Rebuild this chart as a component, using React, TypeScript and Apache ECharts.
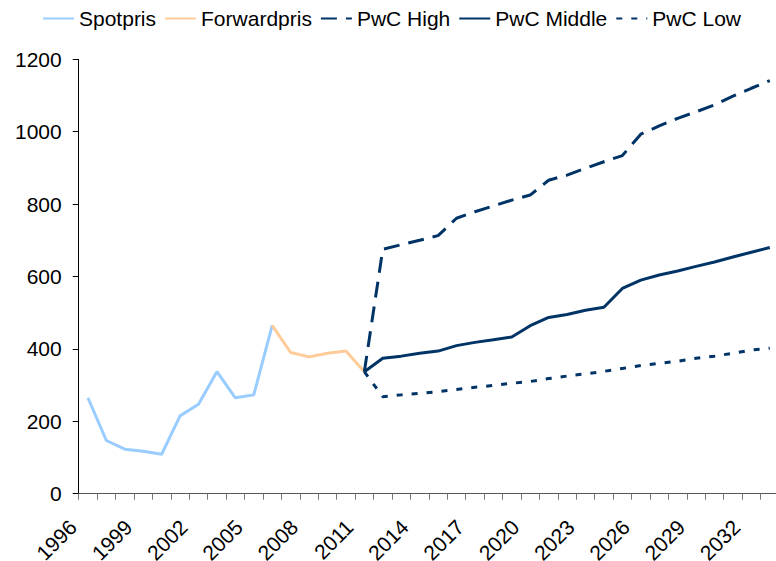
import React, { useEffect, useRef } from "react";
import * as echarts from "echarts";

const years: string[] = [];
for (let y = 1996; y <= 2033; y++) years.push(String(y));

const spotpris = [265, 147, 123, 117, 109, 215, 247, 337, 265, 273, 465];
const forwardpris = [465, 390, 378, 388, 394, 337]; // 2006-2011
const pwcHigh = [337, 675, 688, 700, 713, 761, 779, 795, 811, 825, 866, 880, 899, 917, 934, 993, 1016, 1037, 1055, 1074, 1098, 1120, 1141]; // 2011-2033
const pwcMiddle = [337, 374, 380, 388, 394, 409, 418, 425, 433, 464, 487, 495, 507, 515, 567, 590, 604, 615, 628, 640, 654, 667, 680];
const pwcLow = [337, 268, 273, 277, 282, 288, 294, 299, 305, 310, 318, 325, 331, 338, 346, 354, 360, 366, 374, 380, 388, 397, 402];

const yMin = 0;
const yMax = 1200;
const yInterval = 200;

function place(values: number[], startYear: string): (number | null)[] {
  const start = years.indexOf(startYear);
  return years.map((_, i) => (i >= start && i - start < values.length ? values[i - start] : null));
}

const FONT = "'Liberation Sans', Arial, sans-serif";
const NAVY = "#003366";

export default function App() {
  const ref = useRef<HTMLDivElement>(null);
  useEffect(() => {
    if (!ref.current) return;
    const chart = echarts.init(ref.current, undefined, { renderer: "svg" });
    const lineSeries = (name: string, data: (number | null)[], color: string, type: any) => ({
      name,
      type: "line",
      data,
      symbol: "none",
      showSymbol: false,
      connectNulls: false,
      lineStyle: { color, width: 3, type, cap: "butt" },
      itemStyle: { color },
    });
    chart.setOption({
      animation: false,
      backgroundColor: "#ffffff",
      textStyle: { fontFamily: FONT },
      legend: {
        top: 3,
        left: 37,
        itemWidth: 31,
        itemHeight: 14,
        itemGap: 8,
        itemStyle: { opacity: 0 },
        textStyle: { fontFamily: FONT, fontSize: 21, color: "#000" },
        data: ["Spotpris", "Forwardpris", "PwC High", "PwC Middle", "PwC Low"],
      },
      grid: {
        left: 78.7,
        right: -3,
        top: 59.3,
        bottom: 67.3,
        containLabel: false,
        outerBoundsMode: "none",
      },
      xAxis: {
        type: "category",
        data: years,
        boundaryGap: true,
        axisLine: { lineStyle: { color: "#555", width: 1 } },
        axisTick: { show: true, interval: 0, length: 6, inside: false, lineStyle: { color: "#777" } },
        axisLabel: {
          interval: 2,
          rotate: 45,
          margin: 15,
          padding: [0, 21, 0, 0],
          fontFamily: FONT,
          fontSize: 21,
          color: "#000",
        },
        splitLine: { show: false },
      },
      yAxis: {
        type: "value",
        min: yMin,
        max: yMax,
        interval: yInterval,
        axisLine: { show: true, lineStyle: { color: "#000", width: 1 } },
        axisTick: { show: true, length: 6, lineStyle: { color: "#000" } },
        axisLabel: {
          margin: 17,
          fontFamily: FONT,
          fontSize: 21,
          color: "#000",
          formatter: (v: number) => String(v),
        },
        splitLine: { show: false },
      },
      series: [
        lineSeries("Spotpris", place(spotpris, "1996"), "#99CCFF", "solid"),
        lineSeries("Forwardpris", place(forwardpris, "2006"), "#FFCC99", "solid"),
        lineSeries("PwC High", place(pwcHigh, "2011"), NAVY, [16, 9]),
        lineSeries("PwC Middle", place(pwcMiddle, "2011"), NAVY, "solid"),
        lineSeries("PwC Low", place(pwcLow, "2011"), NAVY, [6, 9]),
      ],
    });
    return () => chart.dispose();
  }, []);
  return <div ref={ref} style={{ position: "fixed", left: 0, top: 0, width: 776, height: 561 }} />;
}
